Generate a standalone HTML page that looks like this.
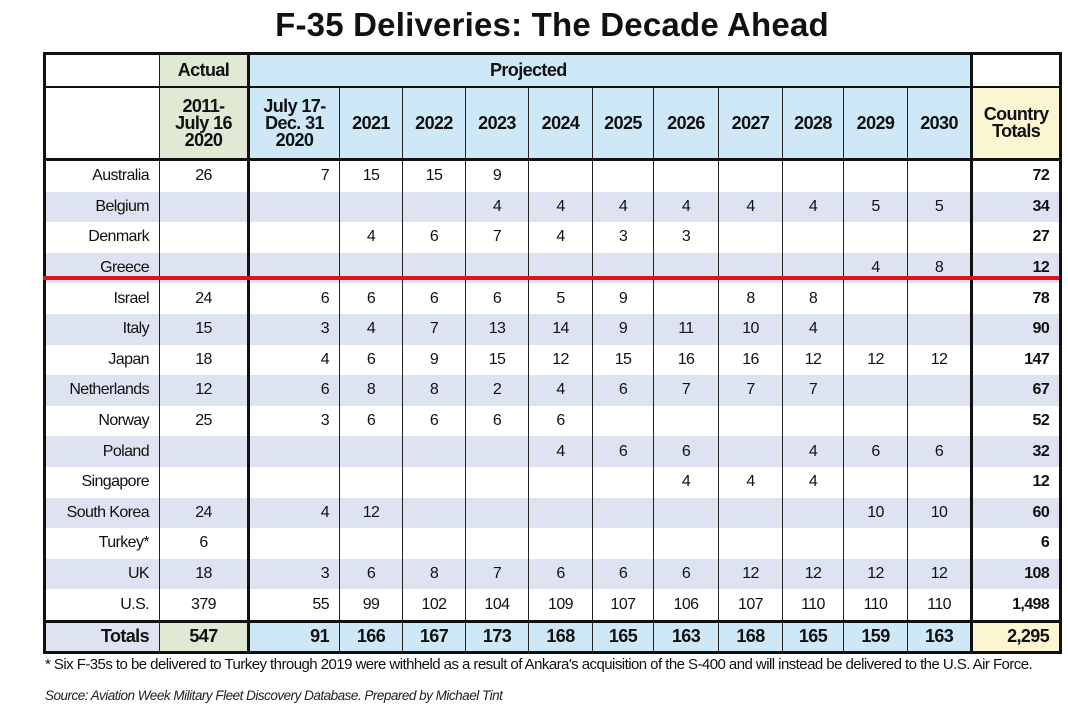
<!DOCTYPE html>
<html><head><meta charset="utf-8"><style>
body{margin:0;width:1068px;height:712px;background:#fff;position:relative;overflow:hidden;font-family:"Liberation Sans",sans-serif;}
.title{position:absolute;left:36px;width:1032px;top:6px;text-align:center;font-weight:bold;font-size:33px;letter-spacing:0.2px;color:#111;}
table{position:absolute;left:43px;top:52px;border-collapse:collapse;table-layout:fixed;width:1016px;}
td{border-left:1.5px solid #222;border-right:1.5px solid #222;padding:0;font-size:16px;letter-spacing:-0.6px;text-align:center;color:#111;height:30.6px;}
tr.s td{background:#dde3f0;}
.l{text-align:right;padding-right:10px;}
.r{text-align:right;padding-right:10px;}
.h1 td{height:31px;border-top:3px solid #111;border-bottom:2px solid #111;font-weight:bold;font-size:18px;}
.h2 td{height:70px;border-bottom:3px solid #111;font-weight:bold;font-size:18px;line-height:17px;}
.t td{height:28px;border-top:3px solid #111;border-bottom:3px solid #111;font-weight:bold;font-size:18px;}
.g{background:#dfe9d3!important;}.b{background:#cfe8f8!important;}.y{background:#fbf5d2!important;}.w{background:#fff!important;}
.red{position:absolute;left:43px;width:1016px;top:276px;height:4px;background:#e3101a;}
.fn{position:absolute;left:45px;top:656px;font-size:15px;letter-spacing:-0.55px;white-space:nowrap;color:#111;}
.src{position:absolute;left:45px;top:688px;font-size:13.5px;letter-spacing:-0.5px;font-style:italic;color:#222;}
</style></head><body>
<div class="title">F-35 Deliveries: The Decade Ahead</div>
<table>
<colgroup><col style="width:115px"><col style="width:89px"><col style="width:91px"><col style="width:63px"><col style="width:63px"><col style="width:63px"><col style="width:64px"><col style="width:61px"><col style="width:65px"><col style="width:64px"><col style="width:61px"><col style="width:64px"><col style="width:64px"><col style="width:89px"></colgroup>
<tr class="h1"><td class="w" style="border-left:3px solid #111"></td><td class="g" style="border-right:3px solid #111">Actual</td><td class="b" colspan="11" style="text-align:left;padding-left:240px;border-right:3px solid #111">Projected</td><td class="w" style="border-right:3px solid #111"></td></tr>
<tr class="h2"><td class="w" style="border-left:3px solid #111"></td><td class="g" style="border-right:3px solid #111">2011-<br>July 16<br>2020</td><td class="b">July 17-<br>Dec. 31<br>2020</td><td class="b">2021</td><td class="b">2022</td><td class="b">2023</td><td class="b">2024</td><td class="b">2025</td><td class="b">2026</td><td class="b">2027</td><td class="b">2028</td><td class="b">2029</td><td class="b" style="border-right:3px solid #111">2030</td><td class="y" style="border-right:3px solid #111">Country<br>Totals</td></tr>
<tr><td class="l" style="border-left:3px solid #111">Australia</td><td style="border-right:3px solid #111">26</td><td class="r">7</td><td>15</td><td>15</td><td>9</td><td></td><td></td><td></td><td></td><td></td><td></td><td style="border-right:3px solid #111"></td><td class="r" style="border-right:3px solid #111;font-weight:bold">72</td></tr>
<tr class="s"><td class="l" style="border-left:3px solid #111">Belgium</td><td style="border-right:3px solid #111"></td><td class="r"></td><td></td><td></td><td>4</td><td>4</td><td>4</td><td>4</td><td>4</td><td>4</td><td>5</td><td style="border-right:3px solid #111">5</td><td class="r" style="border-right:3px solid #111;font-weight:bold">34</td></tr>
<tr><td class="l" style="border-left:3px solid #111">Denmark</td><td style="border-right:3px solid #111"></td><td class="r"></td><td>4</td><td>6</td><td>7</td><td>4</td><td>3</td><td>3</td><td></td><td></td><td></td><td style="border-right:3px solid #111"></td><td class="r" style="border-right:3px solid #111;font-weight:bold">27</td></tr>
<tr class="s"><td class="l" style="border-left:3px solid #111">Greece</td><td style="border-right:3px solid #111"></td><td class="r"></td><td></td><td></td><td></td><td></td><td></td><td></td><td></td><td></td><td>4</td><td style="border-right:3px solid #111">8</td><td class="r" style="border-right:3px solid #111;font-weight:bold">12</td></tr>
<tr><td class="l" style="border-left:3px solid #111">Israel</td><td style="border-right:3px solid #111">24</td><td class="r">6</td><td>6</td><td>6</td><td>6</td><td>5</td><td>9</td><td></td><td>8</td><td>8</td><td></td><td style="border-right:3px solid #111"></td><td class="r" style="border-right:3px solid #111;font-weight:bold">78</td></tr>
<tr class="s"><td class="l" style="border-left:3px solid #111">Italy</td><td style="border-right:3px solid #111">15</td><td class="r">3</td><td>4</td><td>7</td><td>13</td><td>14</td><td>9</td><td>11</td><td>10</td><td>4</td><td></td><td style="border-right:3px solid #111"></td><td class="r" style="border-right:3px solid #111;font-weight:bold">90</td></tr>
<tr><td class="l" style="border-left:3px solid #111">Japan</td><td style="border-right:3px solid #111">18</td><td class="r">4</td><td>6</td><td>9</td><td>15</td><td>12</td><td>15</td><td>16</td><td>16</td><td>12</td><td>12</td><td style="border-right:3px solid #111">12</td><td class="r" style="border-right:3px solid #111;font-weight:bold">147</td></tr>
<tr class="s"><td class="l" style="border-left:3px solid #111">Netherlands</td><td style="border-right:3px solid #111">12</td><td class="r">6</td><td>8</td><td>8</td><td>2</td><td>4</td><td>6</td><td>7</td><td>7</td><td>7</td><td></td><td style="border-right:3px solid #111"></td><td class="r" style="border-right:3px solid #111;font-weight:bold">67</td></tr>
<tr><td class="l" style="border-left:3px solid #111">Norway</td><td style="border-right:3px solid #111">25</td><td class="r">3</td><td>6</td><td>6</td><td>6</td><td>6</td><td></td><td></td><td></td><td></td><td></td><td style="border-right:3px solid #111"></td><td class="r" style="border-right:3px solid #111;font-weight:bold">52</td></tr>
<tr class="s"><td class="l" style="border-left:3px solid #111">Poland</td><td style="border-right:3px solid #111"></td><td class="r"></td><td></td><td></td><td></td><td>4</td><td>6</td><td>6</td><td></td><td>4</td><td>6</td><td style="border-right:3px solid #111">6</td><td class="r" style="border-right:3px solid #111;font-weight:bold">32</td></tr>
<tr><td class="l" style="border-left:3px solid #111">Singapore</td><td style="border-right:3px solid #111"></td><td class="r"></td><td></td><td></td><td></td><td></td><td></td><td>4</td><td>4</td><td>4</td><td></td><td style="border-right:3px solid #111"></td><td class="r" style="border-right:3px solid #111;font-weight:bold">12</td></tr>
<tr class="s"><td class="l" style="border-left:3px solid #111">South Korea</td><td style="border-right:3px solid #111">24</td><td class="r">4</td><td>12</td><td></td><td></td><td></td><td></td><td></td><td></td><td></td><td>10</td><td style="border-right:3px solid #111">10</td><td class="r" style="border-right:3px solid #111;font-weight:bold">60</td></tr>
<tr><td class="l" style="border-left:3px solid #111">Turkey*</td><td style="border-right:3px solid #111">6</td><td class="r"></td><td></td><td></td><td></td><td></td><td></td><td></td><td></td><td></td><td></td><td style="border-right:3px solid #111"></td><td class="r" style="border-right:3px solid #111;font-weight:bold">6</td></tr>
<tr class="s"><td class="l" style="border-left:3px solid #111">UK</td><td style="border-right:3px solid #111">18</td><td class="r">3</td><td>6</td><td>8</td><td>7</td><td>6</td><td>6</td><td>6</td><td>12</td><td>12</td><td>12</td><td style="border-right:3px solid #111">12</td><td class="r" style="border-right:3px solid #111;font-weight:bold">108</td></tr>
<tr><td class="l" style="border-left:3px solid #111">U.S.</td><td style="border-right:3px solid #111">379</td><td class="r">55</td><td>99</td><td>102</td><td>104</td><td>109</td><td>107</td><td>106</td><td>107</td><td>110</td><td>110</td><td style="border-right:3px solid #111">110</td><td class="r" style="border-right:3px solid #111;font-weight:bold">1,498</td></tr>
<tr class="t"><td class="l" style="border-left:3px solid #111;background:#dde3f0">Totals</td><td class="g" style="border-right:3px solid #111">547</td><td class="r b">91</td><td class="b">166</td><td class="b">167</td><td class="b">173</td><td class="b">168</td><td class="b">165</td><td class="b">163</td><td class="b">168</td><td class="b">165</td><td class="b">159</td><td class="b" style="border-right:3px solid #111">163</td><td class="r y" style="border-right:3px solid #111">2,295</td></tr>
</table>
<div class="red"></div>
<div class="fn">* Six F-35s to be delivered to Turkey through 2019 were withheld as a result of Ankara's acquisition of the S-400 and will instead be delivered to the U.S. Air Force.</div>
<div class="src">Source: Aviation Week Military Fleet Discovery Database. Prepared by Michael Tint</div>
</body></html>
